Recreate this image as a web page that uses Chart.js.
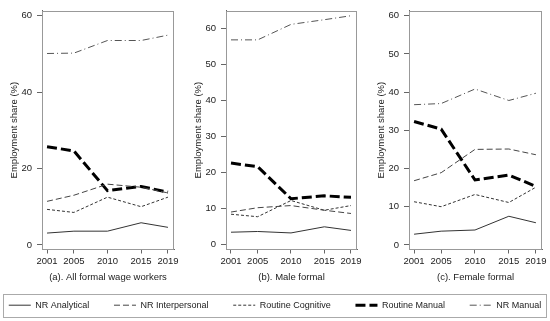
<!DOCTYPE html>
<html>
<head>
<meta charset="utf-8">
<script src="https://cdn.jsdelivr.net/npm/chart.js@4.4.1/dist/chart.umd.min.js"></script>
<style>
body { margin: 0; background: #fff; }
#wrap { position: relative; width: 550px; height: 321px; overflow: hidden; background: #fff; }
canvas { position: absolute; }
#legendBox { position: absolute; left: 3px; top: 294px; width: 544px; height: 24px; border: 1px solid #aaa; box-sizing: border-box; overflow: hidden; }
</style>
</head>
<body>
<div id="wrap">
  <canvas id="chartA" width="183" height="290" style="left:0;top:0"></canvas>
  <canvas id="chartB" width="183" height="290" style="left:183px;top:0"></canvas>
  <canvas id="chartC" width="184" height="290" style="left:366px;top:0"></canvas>
  <div id="legendBox"><canvas id="legend" width="600" height="120" style="left:-29px;top:-19px"></canvas></div>
</div>
<script>
// data (employment share, %)
var years = [2001, 2005, 2010, 2015, 2019];
var seriesNames = ['NR Analytical', 'NR Interpersonal', 'Routine Cognitive', 'Routine Manual', 'NR Manual'];

// (a) all formal wage workers
var aAnalytical     = [3.1, 3.6, 3.6, 5.8, 4.6];
var aInterpersonal  = [11.4, 13.0, 15.9, 15.1, 13.6];
var aCognitive      = [9.3, 8.5, 12.5, 10.0, 12.5];
var aRoutineManual  = [25.7, 24.6, 14.2, 15.3, 13.8];
var aNRManual       = [50.1, 50.2, 53.5, 53.5, 54.9];

// (b) male formal
var bAnalytical     = [3.4, 3.6, 3.2, 4.9, 3.9];
var bInterpersonal  = [9.0, 10.2, 10.8, 9.5, 8.6];
var bCognitive      = [8.4, 7.7, 12.2, 9.5, 10.8];
var bRoutineManual  = [22.6, 21.6, 12.7, 13.5, 13.1];
var bNRManual       = [56.8, 56.8, 61.1, 62.4, 63.5];

// (c) female formal
var cAnalytical     = [2.8, 3.6, 3.9, 7.5, 5.8];
var cInterpersonal  = [16.8, 18.9, 25.0, 25.1, 23.6];
var cCognitive      = [11.3, 10.0, 13.2, 11.1, 15.1];
var cRoutineManual  = [32.3, 30.3, 17.0, 18.3, 15.3];
var cNRManual       = [36.7, 37.0, 40.8, 37.8, 39.7];

var aTicks = [0, 20, 40, 60];
var bTicks = [0, 10, 20, 30, 40, 50, 60];
var cTicks = [0, 10, 20, 30, 40, 50, 60];

var styles = [
  { color: '#333', width: 1, dash: [] },
  { color: '#444', width: 1, dash: [6, 3] },
  { color: '#333', width: 1, dash: [3, 2] },
  { color: '#000', width: 3, dash: [10, 4] },
  { color: '#555', width: 1, dash: [7, 3, 1, 3] }
];

var textColor = '#222';
var axisColor = '#666';
var font = { family: 'Arial, "Liberation Sans", sans-serif', size: 9.5 };

// grey box round the plot region
var framePlugin = {
  id: 'frame',
  beforeDatasetsDraw: function(chart) {
    var ctx = chart.ctx, a = chart.chartArea;
    ctx.save();
    ctx.strokeStyle = '#999';
    ctx.lineWidth = 1;
    ctx.strokeRect(Math.round(a.left) + 0.5, Math.round(a.top) + 0.5,
      Math.round(a.right - a.left) - 1, Math.round(a.bottom - a.top) - 1);
    ctx.restore();
  }
};

function buildDatasets(series) {
  return series.map(function(vals, i) {
    var s = styles[i];
    return {
      label: seriesNames[i],
      data: years.map(function(yr, j) { return { x: yr, y: vals[j] }; }),
      borderColor: s.color,
      backgroundColor: s.color,
      borderWidth: s.width,
      borderDash: s.dash,
      pointRadius: 0,
      fill: false,
      tension: 0
    };
  });
}

function makePanel(id, title, series, yTicks, yMin, yMax, yWidth, padRight) {
  return new Chart(document.getElementById(id), {
    type: 'line',
    data: { datasets: buildDatasets(series) },
    options: {
      responsive: false,
      animation: false,
      layout: { padding: { left: 0, right: padRight, top: 4, bottom: 0 } },
      plugins: { legend: { display: false }, tooltip: { enabled: false } },
      scales: {
        x: {
          type: 'linear',
          min: 2000.25,
          max: 2019.9,
          afterBuildTicks: function(s) { s.ticks = years.map(function(v) { return { value: v }; }); },
          afterFit: function(s) { s.height = 40.5; },
          ticks: { font: font, color: textColor, padding: 2, maxRotation: 0, autoSkip: false,
                   callback: function(v) { return String(v); } },
          grid: { display: true, drawOnChartArea: false, drawTicks: true, tickLength: 4, color: axisColor },
          border: { display: true, color: axisColor },
          title: { display: true, text: title, font: font, color: textColor, padding: { top: 0, bottom: 6.8 } }
        },
        y: {
          type: 'linear',
          min: yMin,
          max: yMax,
          afterBuildTicks: function(s) { s.ticks = yTicks.map(function(v) { return { value: v }; }); },
          afterFit: function(s) { s.width = yWidth; },
          ticks: { font: font, color: textColor, padding: 5, autoSkip: false,
                   callback: function(v) { return String(v); } },
          grid: { display: true, drawOnChartArea: false, drawTicks: true, tickLength: 5, color: axisColor },
          border: { display: true, color: axisColor },
          title: { display: true, text: 'Employment share (%)', font: font, color: textColor,
                   padding: { top: yWidth - 28 - 5.7, bottom: 0 } }
        }
      }
    },
    plugins: [framePlugin]
  });
}

makePanel('chartA', '(a). All formal wage workers',
  [aAnalytical, aInterpersonal, aCognitive, aRoutineManual, aNRManual], aTicks, -1.2, 61.3, 42, 9);
makePanel('chartB', '(b). Male formal',
  [bAnalytical, bInterpersonal, bCognitive, bRoutineManual, bNRManual], bTicks, -1.4, 64.9, 43, 9);
makePanel('chartC', '(c). Female formal',
  [cAnalytical, cInterpersonal, cCognitive, cRoutineManual, cNRManual], cTicks, -1.2, 61.3, 43, 8);

// shared legend underneath
new Chart(document.getElementById('legend'), {
  type: 'line',
  data: {
    datasets: seriesNames.map(function(name, i) {
      var s = styles[i];
      return { label: name, data: [], borderColor: s.color, backgroundColor: s.color,
               borderWidth: s.width, borderDash: s.dash };
    })
  },
  options: {
    responsive: false,
    animation: false,
    layout: { padding: 0 },
    scales: { x: { display: false }, y: { display: false } },
    plugins: {
      tooltip: { enabled: false },
      legend: {
        display: true,
        position: 'top',
        labels: {
          usePointStyle: true,
          pointStyle: 'line',
          pointStyleWidth: 22,
          padding: 24.7,
          color: textColor,
          font: { family: 'Arial, "Liberation Sans", sans-serif', size: 9 },
          generateLabels: function(chart) {
            return chart.data.datasets.map(function(ds, i) {
              return {
                text: ds.label,
                strokeStyle: ds.borderColor,
                fillStyle: ds.borderColor,
                lineWidth: ds.borderWidth,
                lineDash: ds.borderDash,
                lineCap: 'butt',
                pointStyle: 'line',
                fontColor: textColor,
                hidden: false,
                datasetIndex: i
              };
            });
          }
        }
      }
    }
  }
});
</script>
</body>
</html>
